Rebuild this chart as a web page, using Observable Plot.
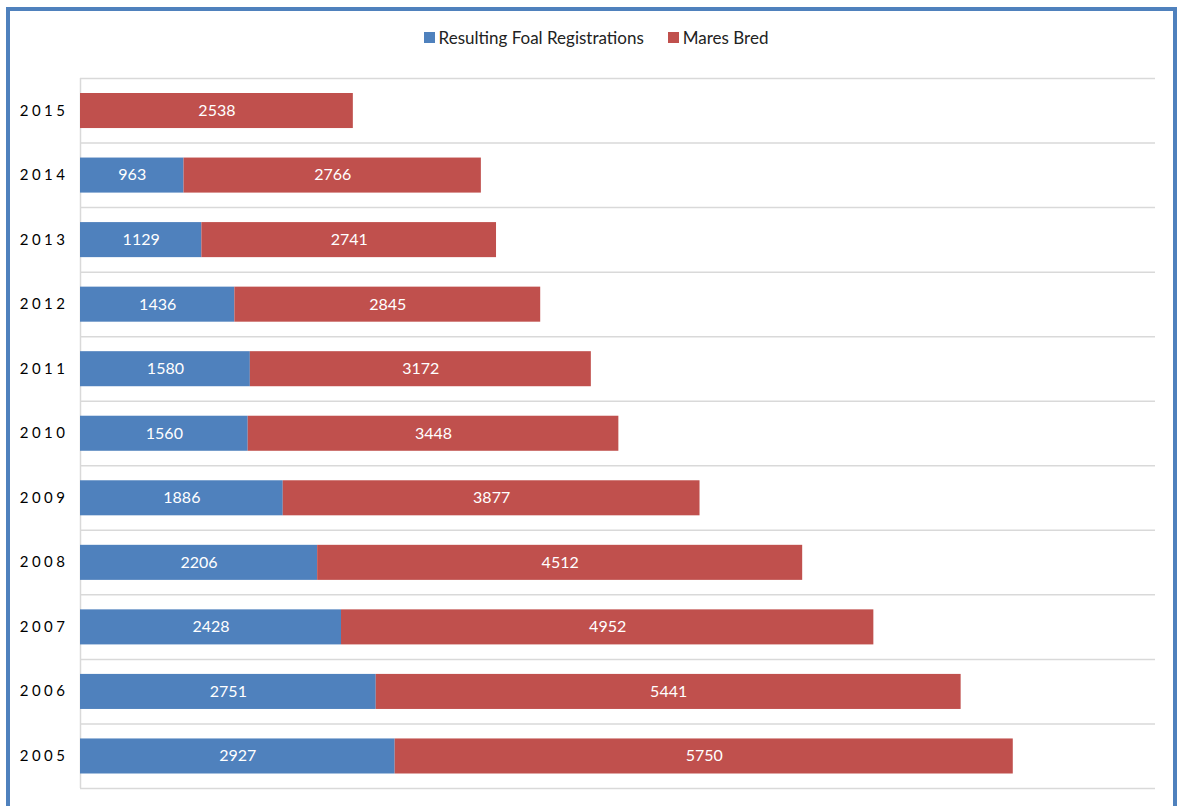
<!DOCTYPE html>
<html>
<head>
<meta charset="utf-8">
<script src="https://cdn.jsdelivr.net/npm/d3@7"></script>
<script src="https://cdn.jsdelivr.net/npm/@observablehq/plot@0.6"></script>
<style>
  html, body { margin: 0; padding: 0; background: #fff; }
  #wrap { position: relative; width: 1177px; height: 806px; overflow: hidden; font-family: Lato, "Open Sans", sans-serif; }
  #frame { position: absolute; left: 6px; top: 7px; width: 1171px; height: 820px; box-sizing: border-box; border: 4px solid #4F81BD; pointer-events: none; }
  #legend { box-sizing: border-box; height: 60px; padding-top: 14px; padding-left: 15px; display: flex; justify-content: center; align-items: center; font-size: 17px; color: #222; }
  .item { display: flex; align-items: center; margin: 0 12px; }
  .sw { width: 11px; height: 11px; margin-right: 4px; }
  #chart svg { display: block; }
</style>
</head>
<body>
<div id="wrap">
  <div id="legend"></div>
  <div id="chart"></div>
  <div id="frame"></div>
</div>
<script>
const years = ["2015","2014","2013","2012","2011","2010","2009","2008","2007","2006","2005"];
const foals = [null, 963, 1129, 1436, 1580, 1560, 1886, 2206, 2428, 2751, 2927];
const mares = [2538, 2766, 2741, 2845, 3172, 3448, 3877, 4512, 4952, 5441, 5750];
const seriesNames = ["Resulting Foal Registrations", "Mares Bred"];
const seriesColors = ["#4F81BD", "#C0504D"];

const rows = [];
years.forEach((y, i) => {
  if (foals[i] != null) rows.push({year: y, series: seriesNames[0], value: foals[i]});
  if (mares[i] != null) rows.push({year: y, series: seriesNames[1], value: mares[i]});
});

const lg = document.getElementById("legend");
seriesNames.forEach((s, i) => {
  const it = document.createElement("div");
  it.className = "item";
  it.innerHTML = `<div class="sw" style="background:${seriesColors[i]}"></div><span>${s}</span>`;
  lg.appendChild(it);
});

const H = 746, mT = 18, mB = 18;
const bw = (H - mT - mB) / years.length;

const chart = Plot.plot({
  width: 1177,
  height: H,
  marginTop: mT,
  marginBottom: mB,
  marginLeft: 80,
  marginRight: 22,
  style: {fontFamily: "Lato, 'Open Sans', sans-serif", fontSize: "15px", color: "#000", background: "transparent"},
  x: {domain: [0, 10000], axis: null},
  y: {domain: years, padding: 0, round: false, label: null},
  color: {domain: seriesNames, range: seriesColors},
  marks: [
    Plot.ruleY(years, {y: d => d, x1: 0, x2: 10000, dy: -bw / 2, stroke: "#d9d9d9", strokeWidth: 1.5}),
    Plot.ruleY([years[years.length - 1]], {y: d => d, x1: 0, x2: 10000, dy: bw / 2, stroke: "#d9d9d9", strokeWidth: 1.5}),
    Plot.ruleX([0], {stroke: "#d9d9d9", strokeWidth: 1.5}),
    Plot.barX(rows, Plot.stackX({x: "value", y: "year", z: "series", order: seriesNames, fill: "series", insetTop: 15, insetBottom: 14.5})),
    Plot.text(rows, Plot.stackX({x: "value", y: "year", z: "series", order: seriesNames, text: d => String(d.value), fill: "white", fontSize: 16})),
    Plot.axisY({tickSize: 0, tickPadding: 12, fontSize: 15, label: null})
  ]
});
document.getElementById("chart").appendChild(chart);
d3.select(chart).selectAll('g[aria-label="y-axis tick label"] text').attr("letter-spacing", "3.5px").attr("fill", "#000");
</script>
</body>
</html>
